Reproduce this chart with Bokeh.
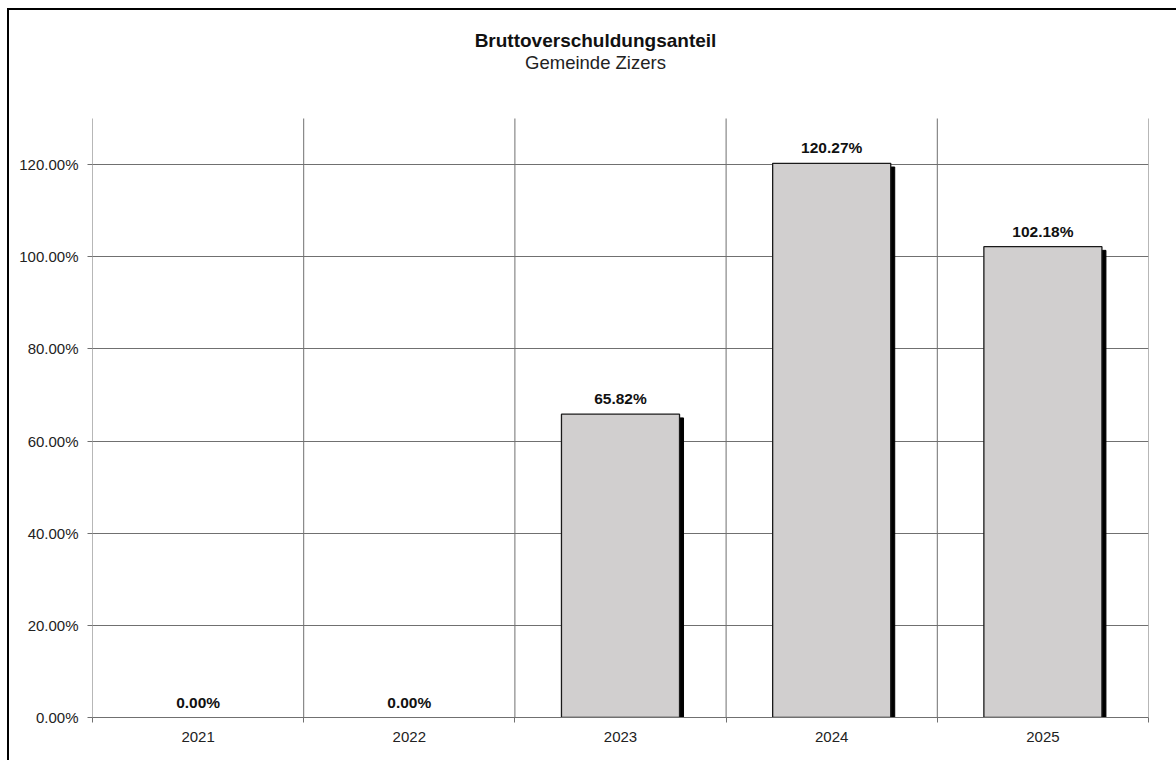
from bokeh.plotting import figure
from bokeh.models import (ColumnDataSource, Range1d, FixedTicker, PrintfTickFormatter,
                          LabelSet, Label)
from bokeh.core.properties import value
from bokeh.transform import dodge
from bokeh.embed import file_html
from bokeh.resources import INLINE

# ---- data ----
years = ["2021", "2022", "2023", "2024", "2025"]
values = [0.00, 0.00, 65.82, 120.27, 102.18]
y_ticks = [0, 20, 40, 60, 80, 100, 120]
y_max = 130
title_text = "Bruttoverschuldungsanteil"
subtitle_text = "Gemeinde Zizers"

FONT = "Liberation Sans"
GRID = "#707070"

pos = [i + 0.5 for i in range(len(years))]
bounds = list(range(len(years) + 1))
labels = [f"{v:.2f}%" for v in values]
src = ColumnDataSource(dict(x=pos, top=values, label=labels))
nz = [i for i, v in enumerate(values) if v > 0]
bar_src = ColumnDataSource(dict(
    x=[pos[i] for i in nz], top=[values[i] for i in nz],
    shadow_top=[values[i] - 0.8 for i in nz],
))

# layout geometry (pixels)
W, H = 1176, 760
B_LEFT, B_RIGHT, B_BOTTOM = 92, 28, 43
PLOT_TOP = 118                  # where y_max sits
frame_h = H - B_BOTTOM
y_end = y_max * frame_h / (frame_h - PLOT_TOP)
frame_w = W - B_LEFT - B_RIGHT
px_x = frame_w / len(years)
px_y = (frame_h - PLOT_TOP) / y_max

p = figure(width=W, height=H,
           x_range=Range1d(0, len(years)), y_range=Range1d(0, y_end),
           output_backend="svg", toolbar_location=None,
           min_border_left=B_LEFT, min_border_right=B_RIGHT,
           min_border_top=0, min_border_bottom=B_BOTTOM)
p.outline_line_color = None
p.background_fill_color = None
p.border_fill_color = None
# outer chart frame (top and left edges visible) painted behind the transparent canvas
p.styles = {
    "background": ("linear-gradient(#000,#000) 7px 8px / 1169px 2px no-repeat, "
                   "linear-gradient(#000,#000) 7px 8px / 2px 752px no-repeat, #ffffff"),
}

# grids
p.xgrid.visible = False
p.ygrid.ticker = FixedTicker(ticks=y_ticks)
p.ygrid.grid_line_color = GRID
p.segment(x0=bounds, y0=[0] * len(bounds), x1=bounds, y1=[y_max] * len(bounds),
          line_color=GRID, line_width=1)

# bars with shadow
bar_w = 0.559
p.vbar(x=dodge("x", 4 / px_x), top="shadow_top", bottom=0, width=bar_w, source=bar_src,
       fill_color="black", line_color="black", line_width=1)
p.vbar(x="x", top="top", bottom=0, width=bar_w, source=bar_src,
       fill_color="#d1cfcf", line_color="#1a1a1a", line_width=1.3)

p.add_layout(LabelSet(x="x", y="top", text="label", source=src,
                      text_align="center", text_baseline="alphabetic", y_offset=10,
                      text_font=value(FONT), text_font_size=value("15.5px"),
                      text_font_style=value("bold"), text_color=value("#111111")))

# axes
xa = p.xaxis[0]
xa.ticker = FixedTicker(ticks=pos, minor_ticks=bounds)
xa.major_label_overrides = {pv: y for pv, y in zip(pos, years)}
xa.major_tick_line_color = None
xa.major_tick_out = 0
xa.major_tick_in = 0
xa.minor_tick_out = 5
xa.minor_tick_in = 0
xa.minor_tick_line_color = GRID
xa.axis_line_color = GRID
xa.major_label_standoff = 9
xa.major_label_text_font = FONT
xa.major_label_text_font_size = "15px"
xa.major_label_text_color = "#222222"

ya = p.yaxis[0]
ya.ticker = FixedTicker(ticks=y_ticks)
ya.formatter = PrintfTickFormatter(format="%.2f%%")
ya.major_tick_out = 5
ya.major_tick_in = 0
ya.major_tick_line_color = GRID
ya.minor_tick_line_color = None
ya.axis_line_color = None
ya.major_label_standoff = 9
ya.major_label_text_font = FONT
ya.major_label_text_font_size = "15px"
ya.major_label_text_color = "#222222"

# titles, placed in the empty band above the plot area
cx = (595 - B_LEFT) / px_x
p.add_layout(Label(x=cx, y=y_max + (PLOT_TOP - 40) / px_y, text=title_text,
                   text_align="center", text_baseline="alphabetic",
                   text_font=FONT, text_font_size="19px", text_font_style="bold",
                   text_color="#111111"))
p.add_layout(Label(x=cx, y=y_max + (PLOT_TOP - 62) / px_y, text=subtitle_text,
                   text_align="center", text_baseline="alphabetic",
                   text_font=FONT, text_font_size="18.5px",
                   text_color="#222222"))

open("out.html", "w").write(file_html(p, INLINE))
